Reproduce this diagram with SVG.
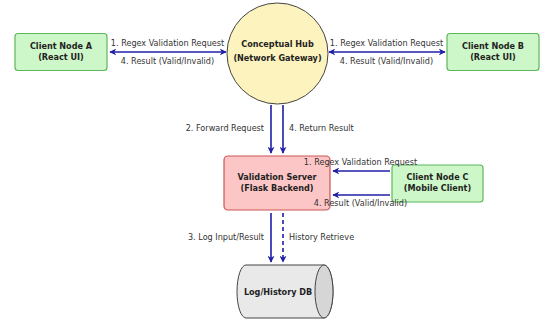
<svg xmlns="http://www.w3.org/2000/svg" width="542" height="323" viewBox="0 0 542 323">
<defs>
<marker id="ah" viewBox="0 0 10 10" refX="9" refY="5" markerWidth="7" markerHeight="7" orient="auto-start-reverse" markerUnits="userSpaceOnUse">
<path d="M0,0 L10,5 L0,10 L3,5 Z" fill="#1f1fa8"/>
</marker>
</defs>
<style>
.lbl{font-family:"DejaVu Sans","Liberation Sans",sans-serif;font-size:8.1px;fill:#333;}
.nd{font-family:"DejaVu Sans","Liberation Sans",sans-serif;font-size:8.1px;font-weight:bold;fill:#222;text-anchor:middle;}
.ar{stroke:#1f1fa8;stroke-width:1.6;fill:none;}
.green{fill:#cdf7c8;stroke:#5cb85c;stroke-width:1.2;}
</style>
<rect width="542" height="323" fill="#fff"/>
<g id="clientA">
<rect class="green" x="15" y="33.5" width="92" height="37" rx="3"/>
<text class="nd" x="61" y="49">Client Node A</text>
<text class="nd" x="61" y="60">(React UI)</text>
</g>
<g id="hub">
<circle cx="277.5" cy="53.5" r="50.5" fill="#fdf3be" stroke="#444" stroke-width="1"/>
<text class="nd" x="277.5" y="47">Conceptual Hub</text>
<text class="nd" x="277.5" y="61">(Network Gateway)</text>
</g>
<g id="clientB">
<rect class="green" x="447" y="33.5" width="92" height="37" rx="3"/>
<text class="nd" x="493" y="49">Client Node B</text>
<text class="nd" x="493" y="60">(React UI)</text>
</g>
<g id="server">
<rect x="224" y="156" width="106" height="54" rx="4" fill="#fcc6c6" stroke="#cc5555" stroke-width="1.2"/>
<text class="nd" x="277" y="180">Validation Server</text>
<text class="nd" x="277" y="191">(Flask Backend)</text>
</g>
<g id="clientC">
<rect class="green" x="392" y="165" width="91" height="37" rx="3"/>
<text class="nd" x="437.5" y="180">Client Node C</text>
<text class="nd" x="437.5" y="190.5">(Mobile Client)</text>
</g>
<g id="db">
<path d="M246,265 L324,265 A9,26.5 0 0 1 324,318 L246,318 A9,26.5 0 0 1 246,265 Z" fill="#e9e9e9" stroke="#444" stroke-width="1"/>
<ellipse cx="324" cy="291.5" rx="9" ry="26.5" fill="#d6d6d6" stroke="#444" stroke-width="1"/>
<text class="nd" x="278" y="295">Log/History DB</text>
</g>
<g id="connectors">
<line class="ar" x1="110" y1="52" x2="226" y2="52" marker-start="url(#ah)" marker-end="url(#ah)"/>
<line class="ar" x1="329" y1="52" x2="445" y2="52" marker-start="url(#ah)" marker-end="url(#ah)"/>
<line class="ar" x1="271" y1="105" x2="271" y2="153" marker-end="url(#ah)"/>
<line class="ar" x1="283" y1="105" x2="283" y2="153" marker-end="url(#ah)"/>
<line class="ar" x1="390" y1="171" x2="333" y2="171" marker-end="url(#ah)"/>
<line class="ar" x1="390" y1="195" x2="333" y2="195" marker-end="url(#ah)"/>
<line class="ar" x1="271" y1="213" x2="271" y2="262" marker-end="url(#ah)"/>
<line class="ar" x1="283" y1="213" x2="283" y2="262" stroke-dasharray="4,3" marker-end="url(#ah)"/>
<text class="lbl" x="167.5" y="46" text-anchor="middle">1. Regex Validation Request</text>
<text class="lbl" x="167.5" y="64" text-anchor="middle">4. Result (Valid/Invalid)</text>
<text class="lbl" x="386.5" y="46" text-anchor="middle">1. Regex Validation Request</text>
<text class="lbl" x="386.5" y="64" text-anchor="middle">4. Result (Valid/Invalid)</text>
<text class="lbl" x="264" y="131" text-anchor="end">2. Forward Request</text>
<text class="lbl" x="289" y="131">4. Return Result</text>
<text class="lbl" x="360.5" y="165" text-anchor="middle">1. Regex Validation Request</text>
<text class="lbl" x="360.5" y="206" text-anchor="middle">4. Result (Valid/Invalid)</text>
<text class="lbl" x="264" y="240" text-anchor="end">3. Log Input/Result</text>
<text class="lbl" x="289" y="240">History Retrieve</text>
</g>
</svg>
